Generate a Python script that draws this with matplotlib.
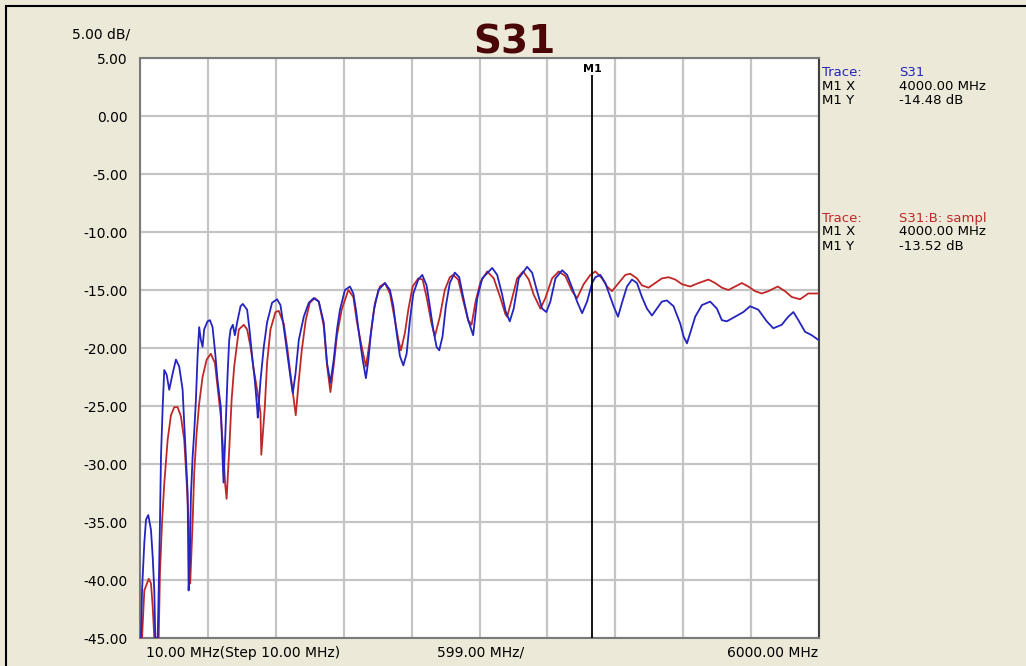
import numpy as np
import matplotlib
matplotlib.use("Agg")
from matplotlib import pyplot as plt
from matplotlib.patches import Rectangle

# S31 trace, (MHz, dB)
s31_trace = [
    (19, -45.0), (28, -40.9), (48, -36.8), (63, -34.8), (83, -34.4), (107, -35.7), (122, -38.0),
    (136, -40.9), (145, -45.0), (166, -45.0), (175, -40.9), (186, -35.1), (195, -29.4), (210, -25.1),
    (224, -21.9), (245, -22.3), (268, -23.6), (298, -22.2), (327, -21.0), (356, -21.6), (386, -23.6),
    (400, -26.5), (415, -29.4), (430, -32.5), (439, -40.9), (450, -38.0), (459, -32.8), (474, -29.4),
    (488, -27.3), (503, -24.5), (518, -20.7), (532, -18.2), (547, -19.3), (562, -19.9), (576, -18.4),
    (606, -17.7), (627, -17.6), (650, -18.2), (673, -20.4), (694, -22.8), (723, -25.1), (738, -29.4),
    (747, -31.6), (761, -27.9), (783, -22.2), (797, -19.3), (809, -18.4), (829, -18.0), (847, -18.9),
    (867, -17.8), (897, -16.4), (917, -16.2), (955, -16.7), (976, -18.4), (999, -20.7), (1023, -22.8),
    (1043, -25.1), (1049, -26.0), (1073, -22.8), (1102, -19.9), (1131, -17.8), (1175, -16.1),
    (1219, -15.8), (1249, -16.3), (1278, -18.2), (1308, -20.4), (1337, -22.5), (1358, -23.9),
    (1382, -22.2), (1411, -19.3), (1455, -17.3), (1499, -16.1), (1543, -15.7), (1587, -16.0),
    (1631, -17.8), (1660, -21.3), (1690, -23.0), (1719, -21.0), (1748, -18.4), (1774, -16.7),
    (1818, -15.0), (1862, -14.7), (1892, -15.3), (1915, -16.7), (1945, -19.0), (1974, -21.0),
    (2003, -22.6), (2025, -21.0), (2047, -18.7), (2074, -16.7), (2113, -15.0), (2171, -14.4),
    (2215, -15.0), (2245, -16.4), (2274, -18.7), (2303, -20.7), (2333, -21.5), (2362, -20.5),
    (2391, -17.6), (2421, -15.3), (2465, -14.1), (2500, -13.7), (2538, -14.6), (2567, -16.4),
    (2597, -18.4), (2626, -19.9), (2650, -20.2), (2679, -19.0), (2708, -16.4), (2743, -14.4),
    (2787, -13.5), (2826, -13.9), (2861, -15.6), (2905, -17.6), (2949, -18.9), (2985, -15.7),
    (3029, -14.0), (3117, -13.1), (3161, -13.7), (3205, -15.4), (3234, -16.8), (3272, -17.7),
    (3307, -16.6), (3351, -14.0), (3425, -13.0), (3469, -13.5), (3513, -15.1), (3557, -16.6),
    (3595, -16.9), (3630, -16.0), (3675, -14.0), (3734, -13.3), (3778, -13.7), (3822, -14.8),
    (3866, -16.0), (3910, -17.0), (3954, -16.0), (3998, -14.4), (4027, -13.9), (4071, -13.7),
    (4115, -14.4), (4159, -15.6), (4188, -16.4), (4227, -17.3), (4262, -16.1), (4306, -14.7),
    (4350, -14.1), (4394, -14.4), (4438, -15.6), (4482, -16.6), (4526, -17.2), (4570, -16.6),
    (4614, -16.0), (4658, -15.9), (4717, -16.4), (4776, -17.9), (4805, -19.0), (4835, -19.6),
    (4864, -18.7), (4908, -17.3), (4967, -16.3), (5040, -16.0), (5099, -16.6), (5143, -17.6),
    (5187, -17.7), (5260, -17.3), (5333, -16.9), (5392, -16.4), (5465, -16.7), (5539, -17.7),
    (5597, -18.3), (5671, -18.0), (5729, -17.3), (5774, -16.9), (5818, -17.6), (5877, -18.6),
    (5936, -18.9), (5994, -19.3),
]

# S31:B sample trace (memory)
sampl_trace = [
    (28, -45.0), (48, -40.9), (87, -39.9), (107, -40.3), (122, -42.3), (136, -45.0), (175, -45.0),
    (186, -39.4), (204, -35.1), (224, -31.7), (254, -27.9), (283, -25.8), (312, -25.1), (342, -25.1),
    (371, -25.9), (400, -27.9), (421, -31.4), (439, -35.1), (453, -40.3), (474, -35.1), (488, -30.8),
    (509, -27.4), (532, -24.8), (562, -22.5), (598, -21.0), (635, -20.5), (671, -21.3), (694, -23.3),
    (723, -25.9), (744, -28.8), (761, -31.7), (774, -33.0), (797, -28.8), (818, -24.5), (841, -21.6),
    (882, -18.4), (926, -18.0), (955, -18.4), (985, -19.9), (1014, -21.9), (1043, -23.6),
    (1073, -25.6), (1080, -29.2), (1111, -25.1), (1131, -21.3), (1161, -18.4), (1205, -16.9),
    (1234, -16.8), (1278, -17.9), (1308, -19.9), (1337, -22.2), (1367, -24.5), (1384, -25.8),
    (1411, -22.8), (1437, -20.2), (1472, -17.6), (1508, -16.1), (1552, -15.7), (1587, -16.0),
    (1631, -18.1), (1660, -21.5), (1690, -23.8), (1719, -21.5), (1748, -18.9), (1789, -16.7),
    (1848, -15.0), (1892, -15.6), (1921, -17.6), (1966, -19.9), (2003, -21.6), (2039, -19.3),
    (2083, -16.1), (2127, -14.7), (2171, -14.4), (2215, -15.3), (2259, -17.6), (2289, -19.3),
    (2312, -20.2), (2347, -18.7), (2377, -16.7), (2415, -14.7), (2465, -14.0), (2503, -14.1),
    (2538, -15.6), (2582, -17.9), (2611, -19.0), (2655, -17.3), (2699, -15.0), (2743, -13.9),
    (2773, -13.7), (2817, -14.1), (2861, -15.9), (2905, -17.6), (2935, -18.0), (2970, -16.0),
    (3014, -14.3), (3073, -13.4), (3131, -14.0), (3190, -15.7), (3234, -17.1), (3249, -17.3),
    (3293, -15.7), (3337, -14.0), (3390, -13.4), (3440, -14.1), (3483, -15.4), (3542, -16.6),
    (3586, -15.7), (3645, -14.0), (3704, -13.4), (3763, -13.8), (3822, -15.1), (3866, -15.7),
    (3924, -14.5), (3983, -13.7), (4027, -13.4), (4086, -14.0), (4130, -14.7), (4174, -15.1),
    (4232, -14.4), (4291, -13.7), (4335, -13.6), (4394, -14.0), (4438, -14.6), (4496, -14.8),
    (4555, -14.4), (4614, -14.0), (4673, -13.9), (4732, -14.1), (4791, -14.5), (4864, -14.7),
    (4937, -14.4), (5025, -14.1), (5084, -14.4), (5143, -14.8), (5201, -15.0), (5260, -14.7),
    (5319, -14.4), (5377, -14.7), (5436, -15.1), (5495, -15.3), (5553, -15.1), (5636, -14.7),
    (5700, -15.1), (5759, -15.6), (5833, -15.8), (5906, -15.3), (5994, -15.3),
]

y_ticks = [5, 0, -5, -10, -15, -20, -25, -30, -35, -40, -45]
f_start, f_stop, f_div = 10.0, 6000.0, 599.0
marker_freq = 4000.0
marker_s31 = -14.48
marker_sampl = -13.52

W, H = 1026, 666
BG = "#ECE9D8"
BLUE = "#2424c0"
RED = "#c02828"
FONT = "DejaVu Sans"


def px(x, y):
    # screen pixel -> figure fraction
    return x / W, 1 - y / H


def main():
    fig = plt.figure(figsize=(W / 100, H / 100), dpi=100, facecolor=BG)
    fig.patches.append(Rectangle((6 / W, -0.1), 1.2, 1 - 6 / H + 0.1, transform=fig.transFigure,
                                 fill=False, edgecolor="black", lw=1.5))

    ax = fig.add_axes([140 / W, 28 / H, 679 / W, 580 / H])
    ax.set_facecolor("white")

    s31_f, s31_db = np.array(s31_trace).T
    smp_f, smp_db = np.array(sampl_trace).T
    ax.plot(smp_f, smp_db, color=RED, lw=1.3, zorder=3)
    ax.plot(s31_f, s31_db, color=BLUE, lw=1.3, zorder=3)

    # marker M1
    ax.vlines(marker_freq, -45, 3.5, color="black", lw=1.3, zorder=4)
    ax.text(marker_freq, 3.6, "M1", ha="center", va="bottom", fontsize=8,
            fontweight="bold", family=FONT)

    ax.set_xlim(f_start, f_stop)
    ax.set_ylim(-45, 5)
    ax.set_xticks(f_start + f_div * np.arange(11))
    ax.set_xticklabels([])
    ax.set_yticks(y_ticks)
    ax.set_yticklabels(["%.2f" % v for v in y_ticks], fontsize=10, family=FONT)
    ax.tick_params(length=0, pad=9)
    ax.grid(True, color="#c4c4c4", lw=1.6)
    ax.set_axisbelow(True)
    for side in ax.spines.values():
        side.set_color("#7a7a7a")
        side.set_linewidth(1.5)
    ax.spines["right"].set_color("#404040")

    # header
    fig.text(*px(72, 38), "5.00 dB/", fontsize=10, family=FONT, va="baseline")
    fig.text(*px(514, 53), "S31", fontsize=28, fontweight="bold", color="#4a0606",
             family=FONT, ha="center", va="baseline")

    # bottom axis annotation
    fig.text(*px(146, 653), "10.00 MHz(Step 10.00 MHz)", fontsize=10, family=FONT, va="center")
    fig.text(*px(437, 653), "%.2f MHz/" % f_div, fontsize=10, family=FONT, va="center")
    fig.text(*px(818, 653), "%.2f MHz" % f_stop, fontsize=10, family=FONT, va="center", ha="right")

    # marker readouts
    rows = [
        (72, "Trace:", "S31", BLUE),
        (86, "M1 X", "%.2f MHz" % marker_freq, "black"),
        (100, "M1 Y", "%.2f dB" % marker_s31, "black"),
        (218, "Trace:", "S31:B: sampl", RED),
        (232, "M1 X", "%.2f MHz" % marker_freq, "black"),
        (247, "M1 Y", "%.2f dB" % marker_sampl, "black"),
    ]
    for y, key, val, col in rows:
        fig.text(*px(822, y), key, fontsize=9.5, family=FONT, color=col, va="center")
        fig.text(*px(899, y), val, fontsize=9.5, family=FONT, color=col, va="center")

    fig.savefig("out.png", dpi=100, facecolor=BG)


if __name__ == "__main__":
    main()
